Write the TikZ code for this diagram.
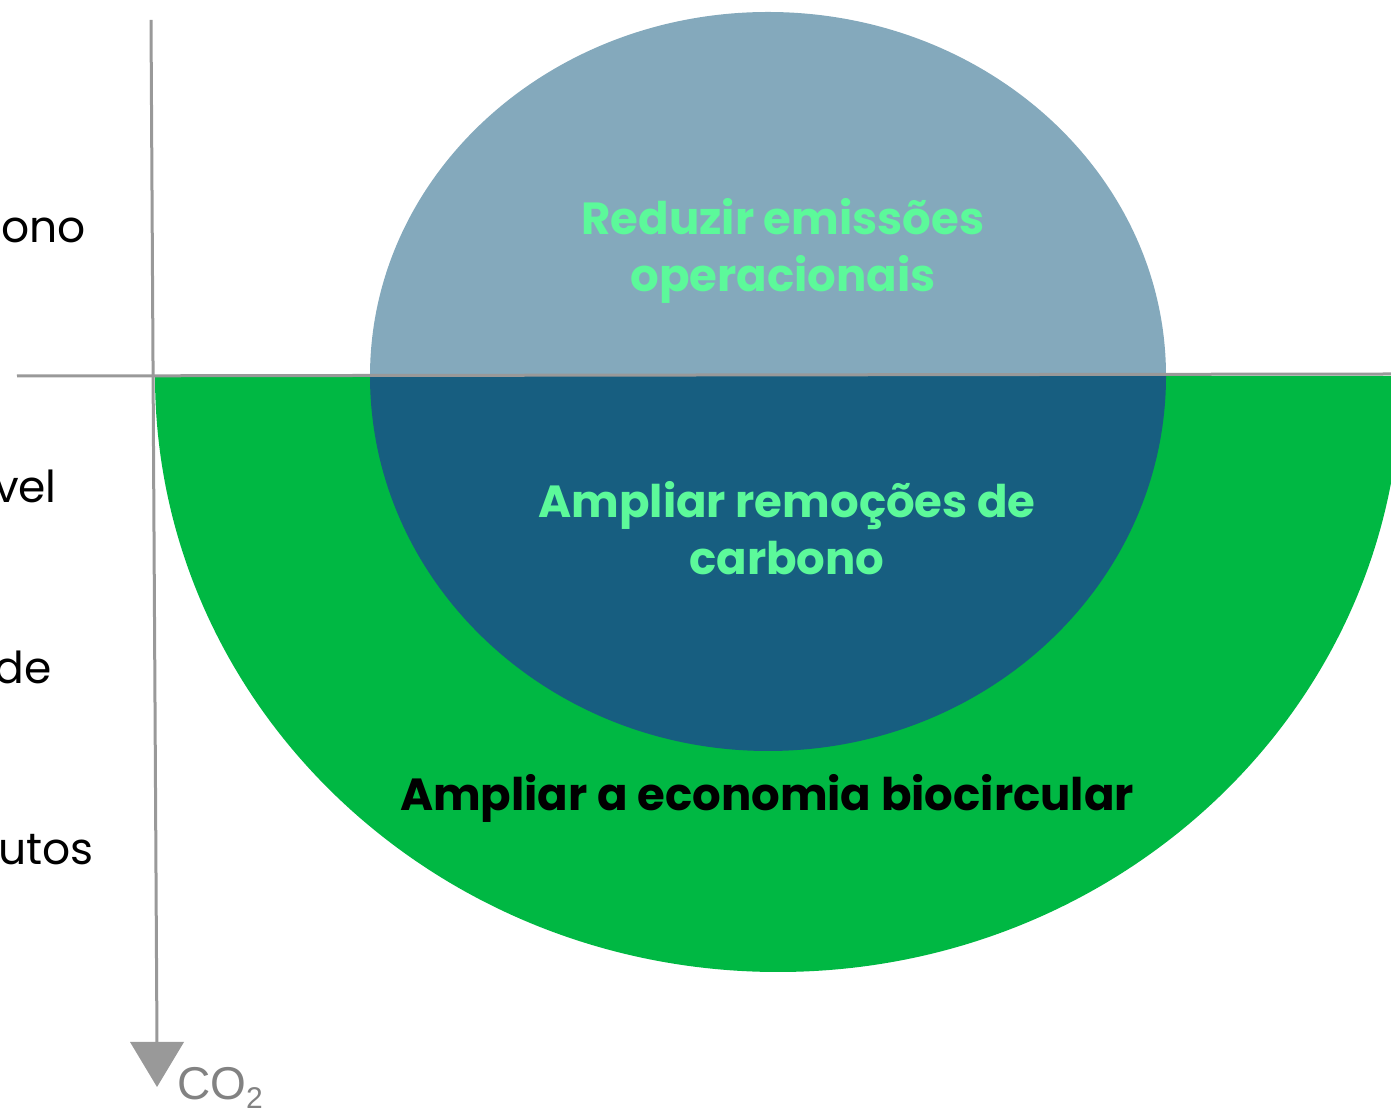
\documentclass[tikz,border=0pt]{standalone}
\usepackage{fontspec}
\setmainfont{Poppins}
\newfontfamily\arialfont{Liberation Sans}
\definecolor{grn}{HTML}{00B843}
\definecolor{lblue}{HTML}{84A9BC}
\definecolor{dblue}{HTML}{175E80}
\definecolor{mint}{HTML}{5CF99A}
\definecolor{axis}{HTML}{999999}
\begin{document}
\begin{tikzpicture}[x=1pt,y=1pt,
  axisline/.style={draw=axis,line width=3pt},
  mainlabel/.style={font=\fontsize{45}{57}\selectfont\bfseries,align=center,inner sep=0pt},
  sidelabel/.style={font=\fontsize{44}{48}\selectfont,anchor=base east,inner sep=0pt},
]
\useasboundingbox (0,0) rectangle (1391,1110);
\clip (0,0) rectangle (1391,1110);
% green half ring
\fill[grn] (155,734) arc[start angle=180,end angle=360,x radius=623pt,y radius=596pt] -- cycle;
% blue ellipse halves
\fill[lblue] (370,734) arc[start angle=180,end angle=0,x radius=398pt,y radius=364pt] -- cycle;
\fill[dblue] (370,734) arc[start angle=180,end angle=360,x radius=398pt,y radius=375pt] -- cycle;
% axes
\coordinate (hl) at (17,734);
\coordinate (hr) at (1391,736);
\coordinate (vt) at (151,1090);
\coordinate (vb) at (157,66);
\draw[axisline] (hl) -- (hr);
\draw[axisline] (vt) -- (vb);
\fill[axis] (130,68) -- (184,68) -- (157,23) -- cycle;
\node[anchor=base west,inner sep=0pt,text=axis!85!black,font=\arialfont\fontsize{46}{50}\selectfont] (co2) at (177,10) {CO\raisebox{-9pt}{\fontsize{30}{32}\selectfont 2}};
% texts
\node[mainlabel,text=mint] (t1) at (783,859) {Reduzir emissões\\operacionais};
\node[mainlabel,text=mint] (t2) at (787,582) {Ampliar remoções de\\carbono};
\node[mainlabel,text=black,anchor=base] (t3) at (767,299) {Ampliar a economia biocircular};
\node[sidelabel] (s1) at (86,867) {ono};
\node[sidelabel] (s2) at (57,607) {vel};
\node[sidelabel] (s3) at (52,426) {de};
\node[sidelabel] (s4) at (94,245) {utos};
\end{tikzpicture}
\end{document}
